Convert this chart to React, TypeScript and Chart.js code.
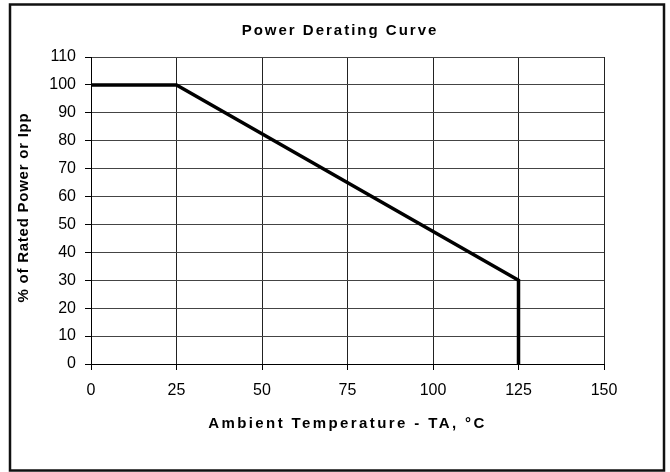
import React, { useEffect, useRef } from 'react';
import { Chart, registerables } from 'chart.js';

Chart.register(...registerables);

// ---- data ----
const temperatures = [0, 25, 125, 125];
const ratedPower = [100, 100, 30, 0];
const xTickValues = [0, 25, 50, 75, 100, 125, 150];
const yTickValues = [0, 10, 20, 30, 40, 50, 60, 70, 80, 90, 100, 110];
const chartTitle = 'Power Derating Curve';
const xAxisTitle = 'Ambient Temperature - TA, °C';
const yAxisTitle = '% of Rated Power or Ipp';

const FONT = '"Liberation Sans", Arial, Helvetica, sans-serif';

const spacingPlugin = {
  id: 'letterSpacingTitles',
  beforeDraw(chart: any) {
    const wrap = (obj: any, key: string, sp: string, dx: number, dy: number) => {
      if (!obj) return;
      obj.__wrapped = obj.__wrapped || {};
      if (obj.__wrapped[key]) return;
      const orig = obj[key];
      obj[key] = function (...args: any[]) {
        const ctx = chart.ctx;
        ctx.save();
        (ctx as any).letterSpacing = sp;
        ctx.translate(dx, dy);
        orig.apply(this, args);
        ctx.restore();
      };
      obj.__wrapped[key] = true;
    };
    wrap(chart.scales.x, 'drawTitle', '2.4px', 0, 0);
    wrap(chart.scales.y, 'drawTitle', '0.75px', 0, -3);
    wrap(chart.titleBlock, 'draw', '2px', 38, 0);
  },
};

const framePlugin = {
  id: 'outerFrame',
  afterDraw(chart: any) {
    const ctx = chart.ctx;
    ctx.save();
    ctx.strokeStyle = '#111';
    ctx.lineWidth = 2.5;
    ctx.strokeRect(10, 4.5, 654, 466);
    ctx.restore();
  },
};

export default function App() {
  const canvasRef = useRef<HTMLCanvasElement | null>(null);

  useEffect(() => {
    if (!canvasRef.current) return;
    Chart.defaults.font.family = FONT;
    const chart = new Chart(canvasRef.current, {
      type: 'scatter',
      data: {
        datasets: [
          {
            data: temperatures.map((t, i) => ({ x: t, y: ratedPower[i] })),
            showLine: true,
            borderColor: '#000',
            backgroundColor: '#000',
            borderWidth: 3.5,
            pointRadius: 0,
            tension: 0,
            clip: false as any,
          },
        ],
      },
      options: {
        responsive: false,
        animation: false,
        layout: { padding: { left: 0, right: 66, top: 0, bottom: 0 } },
        plugins: {
          legend: { display: false },
          tooltip: { enabled: false },
          title: {
            display: true,
            text: chartTitle,
            color: '#000',
            font: { size: 15, weight: 'bold', family: FONT },
            padding: { top: 22, bottom: 17 },
          },
        },
        scales: {
          x: {
            type: 'linear',
            min: 0,
            max: 150,
            afterBuildTicks: (s: any) => {
              s.ticks = xTickValues.map((v) => ({ value: v }));
            },
            afterFit: (s: any) => {
              s.height = 108;
            },
            grid: { color: '#222', lineWidth: 1, tickLength: 6, tickColor: '#000' },
            border: { color: '#000', width: 1 },
            ticks: {
              color: '#000',
              font: { size: 16, family: FONT },
              padding: 11,
              maxRotation: 0,
              autoSkip: false,
            },
            title: {
              display: true,
              text: xAxisTitle,
              color: '#000',
              font: { size: 15, weight: 'bold', family: FONT },
              padding: { top: 0, bottom: 39 },
            },
          },
          y: {
            type: 'linear',
            min: 0,
            max: 110,
            afterBuildTicks: (s: any) => {
              s.ticks = yTickValues.map((v) => ({ value: v }));
            },
            afterFit: (s: any) => {
              s.width = 91;
            },
            grid: { color: '#444', lineWidth: 1, tickLength: 6, tickColor: '#000' },
            border: { color: '#000', width: 1 },
            ticks: {
              color: '#000',
              font: { size: 16, family: FONT },
              padding: 9,
              autoSkip: false,
            },
            title: {
              display: true,
              text: yAxisTitle,
              color: '#000',
              font: { size: 15, weight: 'bold', family: FONT },
              padding: { top: 15, bottom: 0 },
            },
          },
        },
      } as any,
      plugins: [spacingPlugin, framePlugin],
    });
    return () => chart.destroy();
  }, []);

  return (
    <div style={{ position: 'absolute', left: 0, top: 0, width: 670, height: 472, background: '#fff' }}>
      <canvas ref={canvasRef} width={670} height={472} style={{ display: 'block' }} />
    </div>
  );
}
